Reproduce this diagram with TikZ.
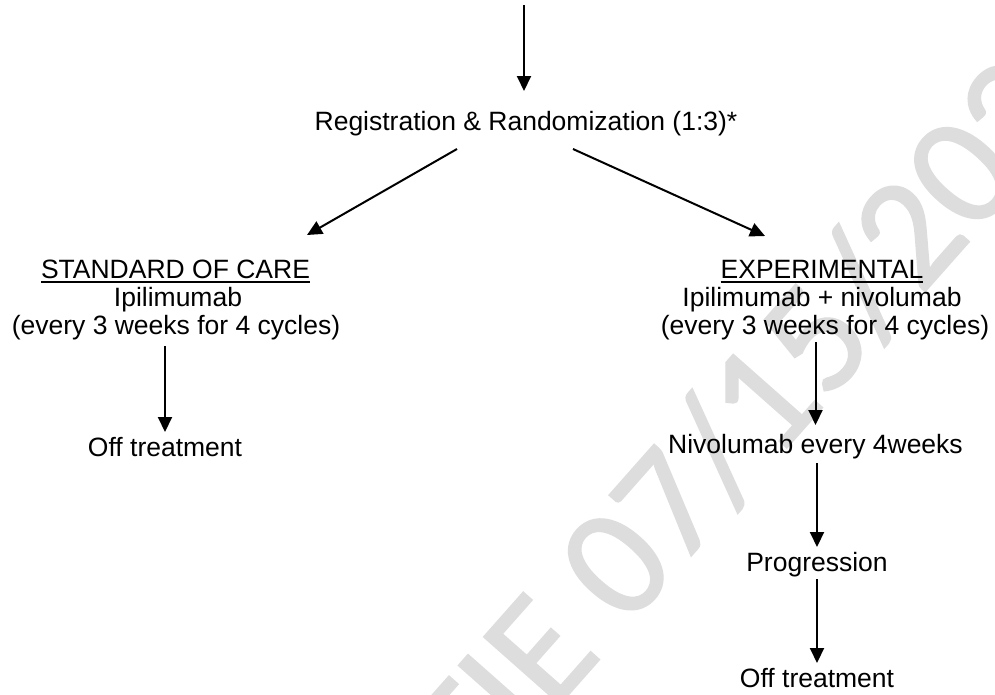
\documentclass[tikz,border=0pt]{standalone}
\usepackage{fontspec}
\setmainfont{Liberation Sans}
\newfontfamily\wmfont{Carlito}[FakeBold=1.2]
\usetikzlibrary{arrows.meta}
\definecolor{wmgray}{HTML}{DDDDDD}
\begin{document}
\begin{tikzpicture}[x=1pt,y=-1pt,
  lbl/.style={inner sep=0pt,outer sep=0pt,anchor=base,text height=19pt,text depth=6pt,
    font=\fontsize{26.5pt}{28pt}\selectfont},
  arr/.style={line width=2pt,-{Triangle[length=15pt,width=14pt]}},
  uline/.style={line width=1.6pt},
  wm/.style={inner sep=0pt,anchor=base west,rotate=48.5,text=wmgray,
    font=\wmfont\fontsize{158pt}{158pt}\selectfont}]
\useasboundingbox (0,0) rectangle (995,694);
\fill[white] (0,0) rectangle (995,694);

% background stamp
\begin{scope}
  \clip (0,0) rectangle (995,694);
  \node[wm] (stamp) at (475,800) {TIE 07/15/2020};
\end{scope}

% registration
\coordinate (entry) at (524,5);
\node[lbl] (reg) at (526,130) {Registration \& Randomization (1:3)*};

% standard arm
\node[lbl] (soc)  at (175.5,278) {STANDARD OF CARE};
\node[lbl] (ipl)  at (178,306)   {Ipilimumab};
\node[lbl] (cycl) at (176,334)   {(every 3 weeks for 4 cycles)};
\node[lbl] (offl) at (165,456)   {Off treatment};

% experimental arm
\node[lbl] (exp)  at (822,278)   {EXPERIMENTAL};
\node[lbl] (ipr)  at (822,306)   {Ipilimumab + nivolumab};
\node[lbl] (cycr) at (825,334)   {(every 3 weeks for 4 cycles)};
\node[lbl] (niv)  at (815.5,453) {Nivolumab every 4weeks};
\node[lbl] (prog) at (817,571)   {Progression};
\node[lbl] (offr) at (817,687)   {Off treatment};

% underlined arm titles
\draw[uline] ([yshift=-4pt]soc.base west) -- ([yshift=-4pt]soc.base east);
\draw[uline] ([yshift=-4pt]exp.base west) -- ([yshift=-4pt]exp.base east);

% connectors
\draw[arr,shorten >=20pt] (entry) -- (entry |- reg.north);
\draw[arr] ([shift={(-69,13)}]reg.south) -- ([shift={(131.5,-24)}]soc.north);
\draw[arr] ([shift={(47,13)}]reg.south) -- ([shift={(-57,-23)}]exp.north);
\draw[arr,shorten <=6pt,shorten >=5pt] (offl.north |- cycl.south) -- (offl.north);
\draw[arr,shorten <=2pt,shorten >=9pt] (niv.north |- cycr.south) -- (niv.north);
\draw[arr,shorten <=4pt,shorten >=5pt] (prog.north |- niv.south) -- (prog.north);
\draw[arr,shorten <=2pt,shorten >=5pt] (offr.north |- prog.south) -- (offr.north);
\end{tikzpicture}
\end{document}
